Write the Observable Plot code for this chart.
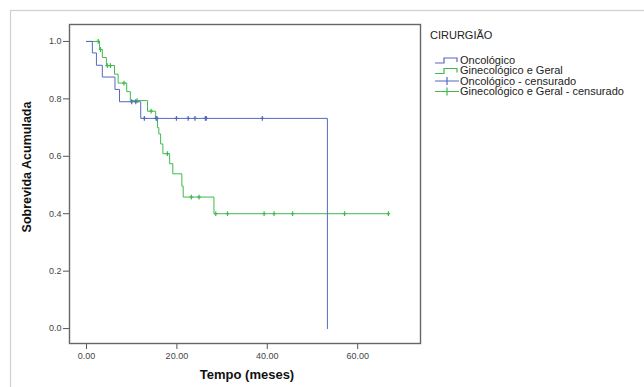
<!DOCTYPE html>
<html>
<head>
<meta charset="utf-8">
<script src="https://cdn.jsdelivr.net/npm/d3@7"></script>
<script src="https://cdn.jsdelivr.net/npm/@observablehq/plot@0.6"></script>
<style>
  html, body { margin: 0; padding: 0; background: #fff; }
</style>
</head>
<body>
<div id="chart"></div>
<script>
// ---- Data ----
const legendTitle = "CIRURGIÃO";
const groupNames = ["Oncológico", "Ginecológico e Geral"];
const censorNames = ["Oncológico - censurado", "Ginecológico e Geral - censurado"];
const xLabel = "Tempo (meses)";
const yLabel = "Sobrevida Acumulada";
const xTicks = [0, 20, 40, 60];
const yTicks = [0, 0.2, 0.4, 0.6, 0.8, 1.0];

// Oncológico: step times and survival after each step
const oncoTime = [0, 1.3, 2.2, 3.5, 6.3, 7.3, 12.0, 53.3];
const oncoSurv = [1.0, 0.960, 0.917, 0.876, 0.833, 0.790, 0.732, 0.0];
// Oncológico censored
const oncoCensTime = [10.0, 10.9, 12.8, 15.4, 15.6, 19.9, 22.5, 24.0, 26.3, 26.5, 38.9];
const oncoCensSurv = [0.790, 0.790, 0.732, 0.732, 0.732, 0.732, 0.732, 0.732, 0.732, 0.732, 0.732];

// Ginecológico e Geral
const ginTime = [0, 2.9, 3.5, 4.4, 6.2, 7.0, 8.9, 9.7, 13.5, 15.3, 15.7, 16.0, 16.4, 16.9, 18.4, 19.1, 21.1, 21.4, 28.2, 66.8];
const ginSurv = [1.0, 0.972, 0.944, 0.916, 0.886, 0.855, 0.825, 0.794, 0.757, 0.731, 0.700, 0.678, 0.643, 0.609, 0.574, 0.539, 0.496, 0.458, 0.400, 0.400];
// Ginecológico e Geral censored
const ginCensTime = [2.6, 3.1, 4.6, 5.3, 8.3, 11.2, 14.3, 17.9, 23.2, 24.9, 28.6, 31.2, 39.3, 41.5, 45.6, 57.1, 66.8];
const ginCensSurv = [1.0, 0.972, 0.916, 0.916, 0.855, 0.794, 0.757, 0.609, 0.458, 0.458, 0.400, 0.400, 0.400, 0.400, 0.400, 0.400, 0.400];

// ---- Build tables ----
const onco = oncoTime.map((t, i) => ({t, s: oncoSurv[i]}));
const gin = ginTime.map((t, i) => ({t, s: ginSurv[i]}));
const oncoCens = oncoCensTime.map((t, i) => ({t, s: oncoCensSurv[i]}));
const ginCens = ginCensTime.map((t, i) => ({t, s: ginCensSurv[i]}));

const blue = "#5468c2";
const green = "#3fba4c";
const font = "'Liberation Sans', Arial, sans-serif";

const censorSymbol = {
  draw(ctx, size) {
    const r = Math.sqrt(size / Math.PI);
    ctx.moveTo(0, -r); ctx.lineTo(0, r);
    ctx.moveTo(-r * 0.75, 0); ctx.lineTo(r * 0.75, 0);
  }
};

const chart = Plot.plot({
  width: 644,
  height: 387,
  marginLeft: 69,
  marginRight: 224,
  marginTop: 24,
  marginBottom: 44,
  style: {fontFamily: font, background: "#fff", color: "#444"},
  x: {domain: [-3.76, 73.9]},
  y: {domain: [-0.052, 1.059]},
  marks: [
    Plot.axisX({ticks: xTicks, tickFormat: d3.format(".2f"), tickSize: 6, tickPadding: 3, fontSize: 9, label: null, stroke: "#555", fill: "#444"}),
    Plot.axisY({ticks: yTicks, tickFormat: d3.format(".1f"), tickSize: 6, tickPadding: 2, fontSize: 9, label: null, stroke: "#555", fill: "#444"}),
    Plot.line(gin, {x: "t", y: "s", curve: "step-after", stroke: green, strokeWidth: 1}),
    Plot.line(onco, {x: "t", y: "s", curve: "step-after", stroke: blue, strokeWidth: 1}),
    Plot.dot(ginCens, {x: "t", y: "s", symbol: censorSymbol, r: 2.4, stroke: green, fill: "none", strokeWidth: 1.2}),
    Plot.dot(oncoCens, {x: "t", y: "s", symbol: censorSymbol, r: 2.4, stroke: blue, fill: "none", strokeWidth: 1.2}),
    Plot.frame({stroke: "#666", strokeWidth: 1.4}),
    Plot.text([yLabel], {text: d => d, frameAnchor: "left", textAnchor: "middle", rotate: -90, dx: -43, dy: -17, fontWeight: "bold", fontSize: 12.5, fill: "#111"}),
    Plot.text([xLabel], {text: d => d, frameAnchor: "bottom", textAnchor: "middle", dx: 2, dy: 35, fontWeight: "bold", fontSize: 13, fill: "#111"})
  ]
});

document.getElementById("chart").appendChild(chart);

// ---- Outer panel border and legend (layout only) ----
const svg = d3.select(chart);
svg.insert("rect", ":first-child")
  .attr("x", 10.5).attr("y", 10.5).attr("width", 700).attr("height", 400)
  .attr("fill", "none").attr("stroke", "#cfcfcf").attr("stroke-width", 1.2);

const lg = svg.append("g").attr("font-family", font).attr("font-size", 11)
  .attr("fill", "#222").attr("text-anchor", "start");
lg.append("text").attr("x", 430).attr("y", 35).attr("dy", "0.35em").text(legendTitle);
const items = [
  {label: groupNames[0], color: blue, type: "step"},
  {label: groupNames[1], color: green, type: "step"},
  {label: censorNames[0], color: blue, type: "cens"},
  {label: censorNames[1], color: green, type: "cens"}
];
const itemY = [60, 70.5, 81, 91.5];
items.forEach((it, i) => {
  const y = itemY[i];
  if (it.type === "step") {
    lg.append("path").attr("d", `M435,${y + 3}H444V${y - 2}H457V${y + 2}`)
      .attr("fill", "none").attr("stroke", it.color).attr("stroke-width", 1.2);
  } else {
    lg.append("path").attr("d", `M435,${y}H459M447,${y - 4}V${y + 4}`)
      .attr("fill", "none").attr("stroke", it.color).attr("stroke-width", 1.2);
  }
  lg.append("text").attr("x", 460).attr("y", y).attr("dy", "0.35em").text(it.label);
});
</script>
</body>
</html>
